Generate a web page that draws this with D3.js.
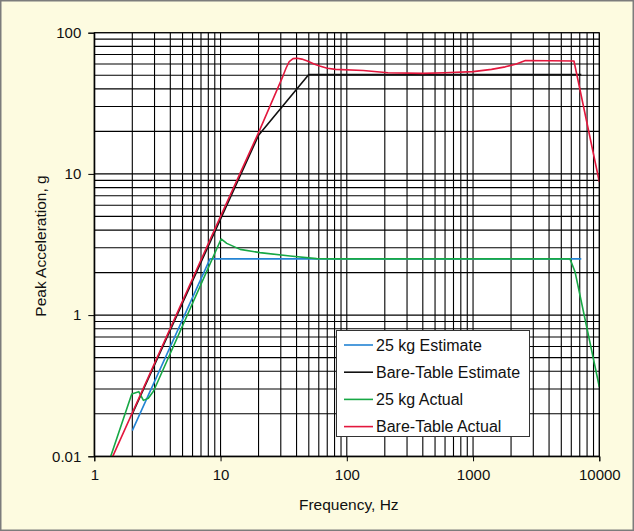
<!DOCTYPE html>
<html>
<head>
<meta charset="utf-8">
<script src="https://cdn.jsdelivr.net/npm/d3@7/dist/d3.min.js"></script>
<style>
  html, body { margin: 0; padding: 0; background: #fdfbe0; }
  svg { display: block; }
  text { font-family: Arial, "Liberation Sans", Helvetica, sans-serif; fill: #111; }
</style>
</head>
<body>
<script>
// Frequency (Hz) and peak acceleration (g) pairs for each curve
const est25kg = [[2, 0.152], [8.25, 2.5], [7200, 2.5]];
const estBare = [[2, 0.2], [20, 18.8], [50, 50.5], [7200, 50.5]];
const act25kg = [
  [1.35, 0.1], [1.98, 0.276], [2.25, 0.287], [2.45, 0.249], [2.68, 0.258],
  [2.95, 0.29], [10.1, 3.46], [11.2, 3.22], [14.3, 2.92], [20.5, 2.77],
  [35.5, 2.62], [57.7, 2.51], [80, 2.5], [5860, 2.5], [6420, 2.03], [10000, 0.311]
];
const actBare = [
  [1.4, 0.1], [10, 5.0], [20, 19.6], [31.2, 49.3], [33, 56], [35, 62.5],
  [37.5, 65.5], [40.5, 66], [44, 65], [48.7, 63], [55, 60], [61, 58],
  [70, 56], [81.5, 55], [135, 54], [212, 52], [400, 51.5], [595, 52],
  [1000, 53], [1400, 55], [1800, 57.3], [2200, 60], [2600, 63.6],
  [6300, 63], [10000, 8.8]
];

const xTickValues = [1, 10, 100, 1000, 10000];
const xTickLabels = ["1", "10", "100", "1000", "10000"];
const yTickValues = [0.1, 1, 10, 100];
const yTickLabels = ["0.01", "1", "10", "100"];

const seriesNames = ["25 kg Estimate", "Bare-Table Estimate", "25 kg Actual", "Bare-Table Actual"];
const seriesData = [est25kg, estBare, act25kg, actBare];
const seriesColors = ["#2484d4", "#111111", "#17a845", "#e3173d"];

const W = 634, H = 531;
const plot = { left: 94.3, right: 599.3, top: 32.7, bottom: 456.3 };

const svg = d3.select("body").append("svg").attr("width", W).attr("height", H);

// page background with thin frame
svg.append("rect")
  .attr("x", 0.75).attr("y", 0.75).attr("width", W - 1.5).attr("height", H - 1.5)
  .attr("fill", "#fdfbe0").attr("stroke", "#7c7c7c").attr("stroke-width", 1.5);

const x = d3.scaleLog().domain([1, 10000]).range([plot.left, plot.right]);
const y = d3.scaleLog().domain([0.1, 100]).range([plot.bottom, plot.top]);

// plot area
svg.append("rect")
  .attr("x", plot.left).attr("y", plot.top)
  .attr("width", plot.right - plot.left).attr("height", plot.bottom - plot.top)
  .attr("fill", "#ffffff");

// log grid: every 1..9 multiple of each decade
const xGrid = [];
for (let d = 1; d <= 1000; d *= 10) for (let k = 1; k <= 9; k++) xGrid.push(k * d);
xGrid.push(10000);
const yGrid = [];
for (let d = 0.1; d <= 10.0001; d *= 10) for (let k = 1; k <= 9; k++) yGrid.push(+(k * d).toPrecision(3));
yGrid.push(100);

const grid = svg.append("g").attr("stroke", "#000").attr("stroke-width", 1.1);
grid.selectAll("line.v").data(xGrid).join("line").attr("class", "v")
  .attr("x1", d => x(d)).attr("x2", d => x(d))
  .attr("y1", plot.top).attr("y2", plot.bottom);
grid.selectAll("line.h").data(yGrid).join("line").attr("class", "h")
  .attr("x1", plot.left).attr("x2", plot.right)
  .attr("y1", d => y(d)).attr("y2", d => y(d));

// axes
const xAxis = d3.axisBottom(x).tickValues(xTickValues)
  .tickFormat((d, i) => xTickLabels[i]).tickSize(5).tickPadding(8);
const yAxis = d3.axisLeft(y).tickValues(yTickValues)
  .tickFormat((d, i) => yTickLabels[i]).tickSize(6).tickPadding(7);

const gx = svg.append("g").attr("transform", `translate(0,${plot.bottom})`).call(xAxis);
const gy = svg.append("g").attr("transform", `translate(${plot.left},0)`).call(yAxis);
[gx, gy].forEach(g => {
  g.select(".domain").attr("stroke", "#000");
  g.selectAll(".tick line").attr("stroke", "#000");
  g.selectAll(".tick text").attr("font-size", 15).attr("fill", "#111")
    .attr("font-family", "Arial, 'Liberation Sans', sans-serif");
});

// curves
const line = d3.line().x(d => x(d[0])).y(d => y(d[1]));
const curves = svg.append("g").attr("fill", "none").attr("stroke-width", 1.6)
  .attr("stroke-linejoin", "round");
seriesData.forEach((s, i) => {
  curves.append("path").datum(s).attr("d", line).attr("stroke", seriesColors[i]);
});

// plot frame on top
svg.append("rect")
  .attr("x", plot.left).attr("y", plot.top)
  .attr("width", plot.right - plot.left).attr("height", plot.bottom - plot.top)
  .attr("fill", "none").attr("stroke", "#000").attr("stroke-width", 1);

// axis titles
svg.append("text")
  .attr("x", (plot.left + plot.right) / 2 + 2).attr("y", 510)
  .attr("text-anchor", "middle").attr("font-size", 15.5)
  .text("Frequency, Hz");
svg.append("text")
  .attr("transform", "translate(46,246) rotate(-90)")
  .attr("text-anchor", "middle").attr("font-size", 15.5)
  .text("Peak Acceleration, g");

// legend
const lg = { x: 336, y: 330, w: 193, h: 106 };
const legend = svg.append("g");
legend.append("rect")
  .attr("x", lg.x + 0.5).attr("y", lg.y + 0.5).attr("width", lg.w).attr("height", lg.h)
  .attr("fill", "#fff").attr("stroke", "#333").attr("stroke-width", 1);
const rows = legend.selectAll("g.row").data(seriesNames).join("g").attr("class", "row")
  .attr("transform", (d, i) => `translate(${lg.x},${lg.y + 15 + i * 27.2})`);
rows.append("line")
  .attr("x1", 8).attr("x2", 37).attr("y1", 0).attr("y2", 0)
  .attr("stroke", (d, i) => seriesColors[i]).attr("stroke-width", 1.6);
rows.append("text")
  .attr("x", 40).attr("y", 5.8).attr("font-size", 16)
  .text(d => d);
</script>
</body>
</html>
